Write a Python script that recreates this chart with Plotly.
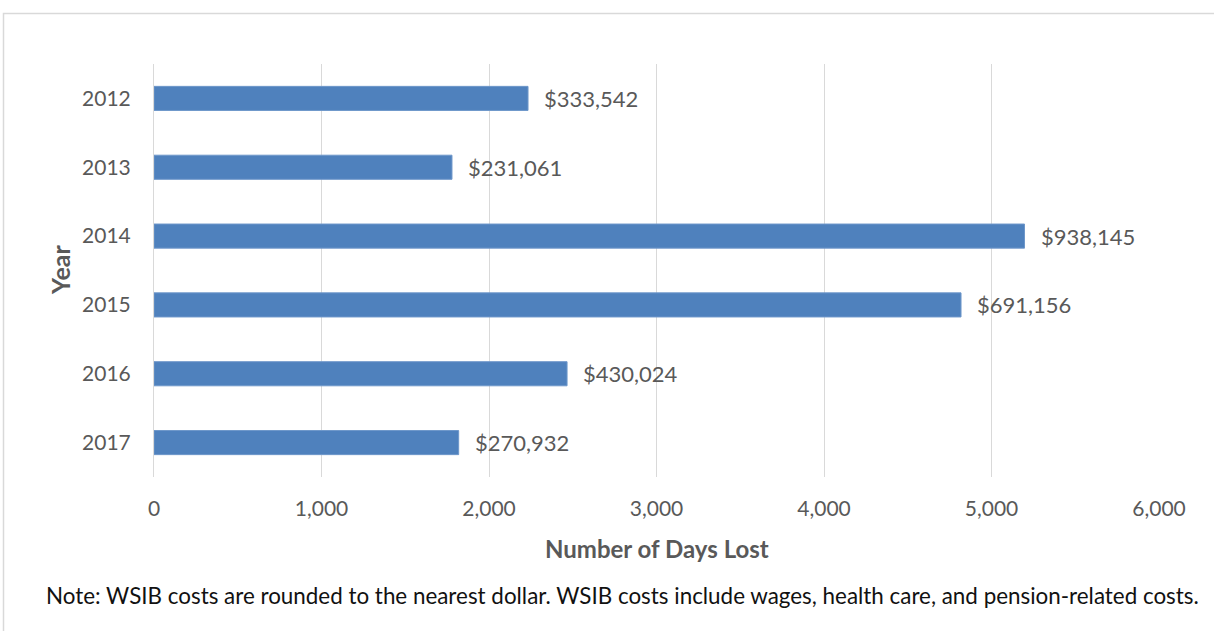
import plotly.graph_objects as go

# Lost-time data by year
years = ["2012", "2013", "2014", "2015", "2016", "2017"]
days_lost = [2233, 1779, 5197, 4818, 2466, 1819]
wsib_costs = [333542, 231061, 938145, 691156, 430024, 270932]
x_ticks = [0, 1000, 2000, 3000, 4000, 5000, 6000]

W, H = 1214, 631
PL, PR, PT, PB = 154, 1159, 64, 477  # plot area in pixels

FONT = "Lato"
GREY = "#595959"


def px_to_paper_x(px):
    return (px - PL) / (PR - PL)


def px_to_paper_y(py):
    return (PB - py) / (PB - PT)


fig = go.Figure(
    go.Bar(
        y=years,
        x=days_lost,
        orientation="h",
        width=0.35,
        marker=dict(color="#4F81BD", line=dict(color="#6E97CA", width=1)),
        hoverinfo="x+y",
    )
)

# Cost labels just past the end of each bar (y given as category index)
for i, (d, c) in enumerate(zip(days_lost, wsib_costs)):
    fig.add_annotation(
        x=d, y=i, xref="x", yref="y",
        text=f"${c:,}", showarrow=False,
        xanchor="left", yanchor="middle", xshift=14,
        font=dict(family=FONT, size=22, color=GREY),
    )

# Axis titles and footnote
fig.add_annotation(
    x=0.5, y=px_to_paper_y(548), xref="paper", yref="paper",
    xanchor="center", yanchor="middle",
    text="<b>Number of Days Lost</b>", showarrow=False,
    font=dict(family=FONT, size=24, color=GREY),
)
fig.add_annotation(
    x=px_to_paper_x(60), y=px_to_paper_y(270), xref="paper", yref="paper",
    xanchor="center", yanchor="middle",
    text="<b>Year</b>", showarrow=False, textangle=-90,
    font=dict(family=FONT, size=25, color=GREY),
)
fig.add_annotation(
    x=px_to_paper_x(622), y=px_to_paper_y(595), xref="paper", yref="paper",
    xanchor="center", yanchor="middle",
    text="Note: WSIB costs are rounded to the nearest dollar. WSIB costs include wages, health care, and pension-related costs.",
    showarrow=False,
    font=dict(family=FONT, size=22.4, color="#111111"),
)

# Outer chart border
fig.add_shape(
    type="rect", xref="paper", yref="paper",
    x0=px_to_paper_x(3.5), x1=px_to_paper_x(1230),
    y0=px_to_paper_y(650), y1=px_to_paper_y(13.5),
    line=dict(color="#D9D9D9", width=1.5), fillcolor="rgba(0,0,0,0)",
    layer="below",
)

fig.update_layout(
    width=W, height=H,
    margin=dict(l=PL, r=W - PR, t=PT, b=H - PB, pad=0),
    plot_bgcolor="white", paper_bgcolor="white",
    showlegend=False,
    font=dict(family=FONT, color=GREY),
    xaxis=dict(
        range=[0, 6000], tickvals=x_ticks,
        ticktext=[f"{v:,}" for v in x_ticks],
        showgrid=True, gridcolor="#D9D9D9", gridwidth=1,
        zeroline=False, showline=False,
        tickfont=dict(family=FONT, size=21, color=GREY),
        ticks="", ticklabelstandoff=17,
    ),
    yaxis=dict(
        type="category", categoryorder="array", categoryarray=years,
        range=[len(years) - 0.5, -0.5],
        showgrid=False, zeroline=False,
        showline=True, linecolor="#D9D9D9", linewidth=1,
        tickfont=dict(family=FONT, size=21, color=GREY),
        ticks="", ticklabelstandoff=18,
    ),
)

fig.write_html("out.html")
